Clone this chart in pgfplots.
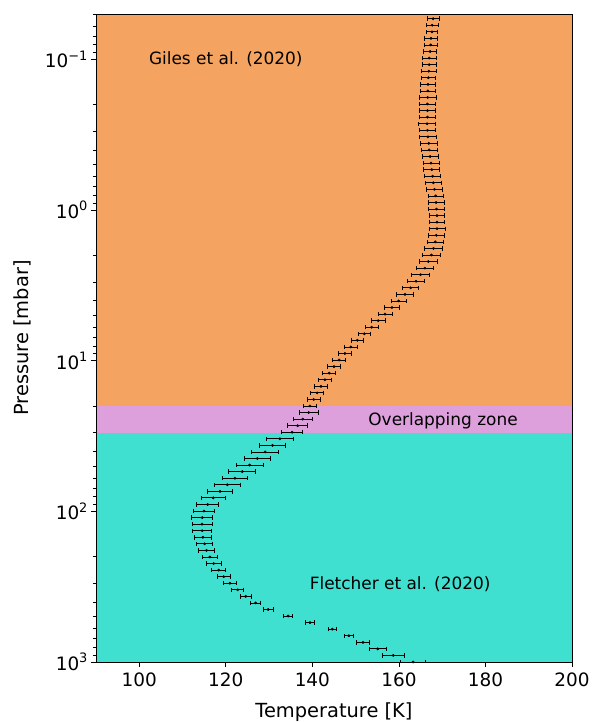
\documentclass[border=0pt]{standalone}
\usepackage{fontspec}
\setmainfont{DejaVu Sans}
\usepackage{pgfplots}
\pgfplotsset{compat=1.18}
\definecolor{sandy}{RGB}{244,164,96}
\definecolor{plum}{RGB}{221,160,221}
\definecolor{turq}{RGB}{64,224,208}
\newcommand{\tp}[1]{10\raisebox{0.42em}{\fontsize{13}{14}\selectfont #1}}
\begin{document}
\begin{tikzpicture}
\begin{axis}[
  scale only axis, width=476bp, height=648bp,
  xmin=90, xmax=200, ymin=0.05, ymax=1000, ymode=log, y dir=reverse,
  xtick={100,120,140,160,180,200}, xticklabels={100,120,140,160,180,200},
  ytick={0.1,1,10,100,1000}, yticklabels={\tp{−1},\tp{0},\tp{1},\tp{2},\tp{3}},
  minor ytick={0.05,0.06,0.07,0.08,0.09,0.2,0.3,0.4,0.5,0.6,0.7,0.8,0.9,2,3,4,5,6,7,8,9,20,30,40,50,60,70,80,90,200,300,400,500,600,700,800,900},
  tick align=outside, xtick pos=bottom, ytick pos=left,
  major tick length=5bp, minor tick length=3bp,
  tick style={black, line width=0.8bp},
  axis line style={line width=0.8bp},
  ticklabel style={font=\fontsize{18.5}{20}\selectfont},
  xticklabel style={yshift=-2bp},
  xlabel={Temperature [K]}, ylabel={Pressure [mbar]},
  label style={font=\fontsize{19.5}{22}\selectfont},
  xlabel style={yshift=-9bp},
  ylabel style={yshift=7bp},
  axis on top,
]
\fill[sandy] (axis cs:90,0.05) rectangle (axis cs:200,20);
\fill[plum] (axis cs:90,20) rectangle (axis cs:200,30);
\fill[turq] (axis cs:90,30) rectangle (axis cs:200,1000);
\addplot[only marks, mark=*, mark size=1.2bp, black,
  error bars/.cd, x dir=both, x explicit, error mark=|,
  error bar style={line width=0.8bp, black},
  error mark options={mark size=2.2bp, line width=0.8bp, black}]
  table[x=T, y=p, x error=e] {
T p e
167.9 0.05371 1.35
167.7 0.05938 1.35
167.65 0.06565 1.35
167.4 0.07257 1.4
167.35 0.08022 1.5
167.2 0.08869 1.5
167.0 0.09805 1.6
167.0 0.1085 1.6
166.9 0.1199 1.7
166.8 0.1324 1.7
166.7 0.1466 1.8
166.7 0.1620 1.8
166.65 0.1790 1.9
166.6 0.1979 1.9
166.6 0.2188 1.9
166.6 0.2419 1.9
166.5 0.2675 1.9
166.6 0.2956 1.9
166.7 0.3269 1.9
166.9 0.3613 1.9
167.0 0.3994 1.85
167.2 0.4416 1.85
167.4 0.4883 1.85
167.6 0.5397 1.85
167.8 0.5967 1.8
167.95 0.6597 1.8
168.2 0.7293 1.8
168.5 0.8062 1.8
168.6 0.8913 1.8
168.7 0.9853 1.8
168.8 1.090 1.8
168.8 1.205 1.8
168.8 1.331 1.85
168.65 1.473 1.9
168.4 1.628 1.9
168.0 1.799 2.0
167.5 1.989 2.0
166.8 2.199 2.0
166.0 2.431 2.0
165.0 2.688 2.0
163.95 2.971 2.0
162.7 3.285 1.9
161.4 3.631 1.9
159.95 4.014 1.8
158.4 4.438 1.7
156.8 4.907 1.6
155.2 5.424 1.6
153.7 5.996 1.55
152.0 6.629 1.45
150.4 7.329 1.45
148.9 8.102 1.5
147.5 8.957 1.5
146.2 9.902 1.5
145.0 10.95 1.5
143.9 12.11 1.5
142.9 13.38 1.55
142.0 14.80 1.55
141.1 16.36 1.55
140.3 18.08 1.55
139.45 19.99 1.55
139.15 22.10 2.15
137.8 24.43 2.2
136.6 27.01 2.3
135.3 29.86 2.4
132.5 33.01 3.1
130.8 36.49 3.05
129.1 40.34 3.1
127.3 44.60 3.1
125.5 49.31 3.1
123.8 54.51 3.1
122.1 60.26 3.0
120.35 66.62 3.0
118.65 73.65 2.9
117.1 81.42 2.8
115.8 90.01 2.6
114.95 99.51 2.5
114.55 110.0 2.4
114.5 121.7 2.3
114.55 134.5 2.2
114.7 148.7 2.0
115.1 164.4 1.9
115.55 181.7 1.8
116.3 200.9 1.8
117.2 222.1 1.7
118.35 245.5 1.6
119.5 271.4 1.5
120.95 300.1 1.5
122.75 331.7 1.35
124.6 366.7 1.3
126.9 405.4 1.2
129.8 448.2 1.2
134.4 495.5 1.1
139.45 547.8 1.05
144.6 605.6 0.95
148.45 669.5 1.05
151.7 740.1 1.45
155.1 818.2 2.0
158.7 904.5 2.55
163.3 1000 2.9
};
\node[font=\fontsize{17}{20}\selectfont] at (axis cs:120,0.1) {Giles et al. (2020)};
\node[font=\fontsize{17}{20}\selectfont] at (axis cs:170.2,25) {Overlapping zone};
\node[font=\fontsize{17}{20}\selectfont] at (axis cs:160.3,304) {Fletcher et al. (2020)};
\coordinate (BL) at (axis cs:90,1000);
\coordinate (TR) at (axis cs:200,0.05);
\end{axis}
\pgfresetboundingbox
\path ([xshift=-96bp,yshift=-60bp]BL) rectangle ([xshift=23bp,yshift=14bp]TR);
\end{tikzpicture}
\end{document}
